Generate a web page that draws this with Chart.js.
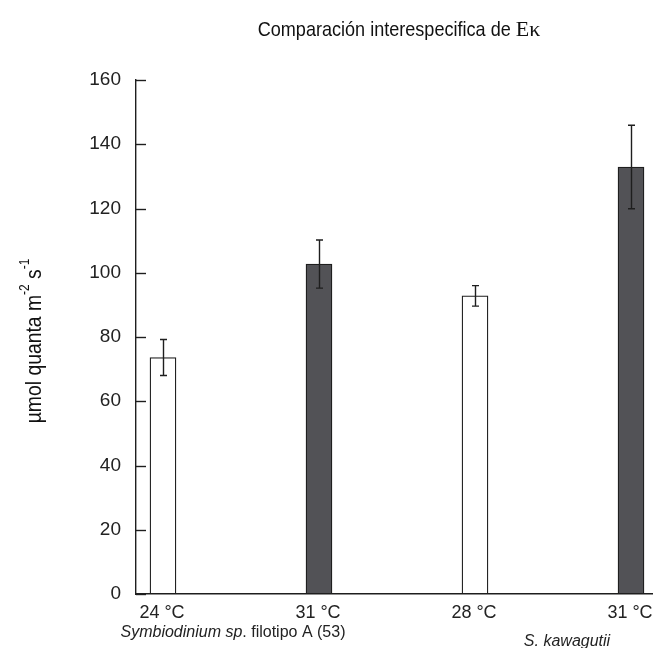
<!DOCTYPE html>
<html>
<head>
<meta charset="utf-8">
<script src="https://cdn.jsdelivr.net/npm/chart.js@4.4.1/dist/chart.umd.min.js"></script>
<style>
  html, body { margin: 0; padding: 0; background: #fff; }
  #wrap { width: 653px; height: 648px; }
</style>
</head>
<body>
<div id="wrap"><canvas id="c" width="653" height="648"></canvas></div>
<script>
// Temperature treatments, one bar each
const categories = ['24 °C', '31 °C', '28 °C', '31 °C'];
// Mean Ek (µmol quanta m-2 s-1)
const ekMean = [73.6, 102.7, 92.8, 132.9];
// Error (± around the mean)
const ekError = [5.6, 7.5, 3.2, 13.0];
// Species groups: which categories belong to each
const speciesGroups = [
  { parts: [['Symbiodinium sp', true], ['. filotipo A (53)', false]], members: [0, 1] },
  { parts: [['S. kawagutii', true]], members: [2, 3] }
];
const yTicks = [0, 20, 40, 60, 80, 100, 120, 140, 160];

const INK = '#1e1e1e';
const fillColors = ['#ffffff', '#525256', '#ffffff', '#525256'];
const SANS = '"Liberation Sans", Arial, sans-serif';
// small shifts of the species captions relative to their pair of bars
const speciesShift = [{ dx: -8, dy: 633 }, { dx: 14, dy: 642 }];

// Error bars drawn over each bar from ekError
const errorBars = {
  id: 'errorBars',
  afterDatasetsDraw(chart) {
    const ctx = chart.ctx;
    const y = chart.scales.y;
    const meta = chart.getDatasetMeta(0);
    ctx.save();
    ctx.strokeStyle = INK;
    ctx.lineWidth = 1.4;
    meta.data.forEach((bar, i) => {
      const cx = Math.round(bar.x) + 0.5;
      const top = y.getPixelForValue(ekMean[i] + ekError[i]);
      const bot = y.getPixelForValue(ekMean[i] - ekError[i]);
      ctx.beginPath();
      ctx.moveTo(cx, top); ctx.lineTo(cx, bot);
      ctx.moveTo(cx - 3.5, top); ctx.lineTo(cx + 3.5, top);
      ctx.moveTo(cx - 3.5, bot); ctx.lineTo(cx + 3.5, bot);
      ctx.stroke();
    });
    ctx.restore();
  }
};

// Short inward tick marks on the value axis
const innerTicks = {
  id: 'innerTicks',
  afterDraw(chart) {
    const ctx = chart.ctx;
    const y = chart.scales.y;
    const left = chart.chartArea.left;
    ctx.save();
    ctx.strokeStyle = INK;
    ctx.lineWidth = 1.4;
    yTicks.forEach(v => {
      const py = Math.round(y.getPixelForValue(v)) + 0.5;
      ctx.beginPath();
      ctx.moveTo(left, py); ctx.lineTo(left + 10, py);
      ctx.stroke();
    });
    ctx.restore();
  }
};

// Draws a run of text pieces side by side, centred on (cx, cy);
// each piece may carry its own font, horizontal squeeze and raise.
function drawRuns(ctx, runs, cx, cy) {
  let total = 0;
  runs.forEach(r => { ctx.font = r.font; total += ctx.measureText(r.text).width * (r.sx || 1); });
  let x = cx - total / 2;
  runs.forEach(r => {
    ctx.font = r.font;
    const w = ctx.measureText(r.text).width;
    ctx.save();
    ctx.translate(x, cy - (r.raise || 0));
    ctx.scale(r.sx || 1, 1);
    ctx.textBaseline = 'middle';
    ctx.textAlign = 'left';
    ctx.fillText(r.text, 0, 0);
    ctx.restore();
    x += w * (r.sx || 1);
  });
}

const extraText = {
  id: 'extraText',
  afterDraw(chart) {
    const ctx = chart.ctx;
    const x = chart.scales.x;
    const y = chart.scales.y;
    ctx.save();
    ctx.fillStyle = '#111';
    // chart title
    drawRuns(ctx, [
      { text: 'Comparación interespecifica de ', font: '21px ' + SANS, sx: 0.86 },
      { text: 'Eκ', font: '22px "Liberation Serif", serif' }
    ], 399, 30);

    // value-axis title, rotated, with raised exponents
    ctx.save();
    ctx.translate(35, (y.top + y.bottom) / 2 + 4);
    ctx.rotate(-Math.PI / 2);
    drawRuns(ctx, [
      { text: 'µmol quanta m', font: '22px ' + SANS, sx: 0.88 },
      { text: '-2', font: '14px ' + SANS, sx: 0.85, raise: 10 },
      { text: ' s', font: '22px ' + SANS, sx: 0.88 },
      { text: '-1', font: '14px ' + SANS, sx: 0.85, raise: 10 }
    ], 0, 0);
    ctx.restore();

    // species labels under each pair of bars
    ctx.fillStyle = '#222';
    speciesGroups.forEach((g, k) => {
      const mid = (x.getPixelForValue(g.members[0]) + x.getPixelForValue(g.members[g.members.length - 1])) / 2;
      drawRuns(ctx, g.parts.map(p => ({
        text: p[0],
        font: (p[1] ? 'italic ' : '') + '16px ' + SANS
      })), mid + speciesShift[k].dx, speciesShift[k].dy);
    });
    ctx.restore();
  }
};

new Chart(document.getElementById('c'), {
  type: 'bar',
  data: {
    datasets: [{
      data: ekMean.map((v, i) => ({ x: i, y: v })),
      backgroundColor: fillColors,
      borderColor: INK,
      borderWidth: 1.3,
      borderSkipped: false,
      barThickness: 26
    }]
  },
  options: {
    responsive: false,
    animation: false,
    events: [],
    layout: { padding: { top: 80, right: 0, bottom: 0, left: 0 } },
    plugins: { legend: { display: false }, tooltip: { enabled: false }, title: { display: false } },
    scales: {
      x: {
        type: 'linear',
        offset: false,
        min: -0.173,
        max: 3.141,
        grid: { display: false, drawTicks: false, offset: false },
        border: { display: true, color: INK, width: 1.4 },
        afterBuildTicks: s => { s.ticks = categories.map((_, i) => ({ value: i })); },
        afterFit: s => { s.height = 54; s.paddingLeft = 0; s.paddingRight = 0; },
        ticks: {
          autoSkip: false,
          maxRotation: 0,
          padding: 8,
          labelOffset: -1,
          color: '#222',
          font: { family: SANS, size: 18 },
          callback: v => categories[v]
        }
      },
      y: {
        min: 0,
        max: 160,
        grid: { display: false, drawTicks: false },
        border: { display: true, color: INK, width: 1.4 },
        afterBuildTicks: s => { s.ticks = yTicks.map(v => ({ value: v })); },
        afterFit: s => { s.width = 136; s.paddingTop = 0; },
        ticks: {
          padding: 15,
          color: '#222',
          font: { family: SANS, size: 19 }
        }
      }
    }
  },
  plugins: [errorBars, innerTicks, extraText]
});
</script>
</body>
</html>
